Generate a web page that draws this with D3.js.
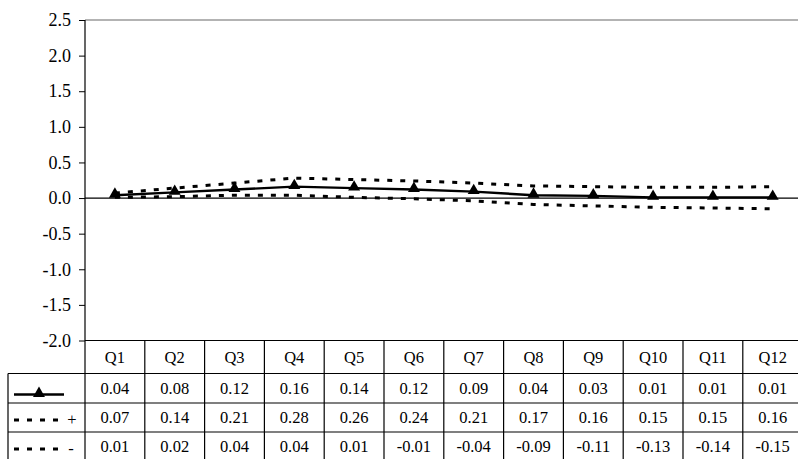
<!DOCTYPE html>
<html>
<head>
<meta charset="utf-8">
<script src="https://cdn.jsdelivr.net/npm/d3@7"></script>
<style>
  html, body { margin: 0; padding: 0; background: #fff; }
</style>
</head>
<body>
<svg id="chart" width="798" height="459"></svg>
<script>
// Quarterly categories
const quarters = ["Q1","Q2","Q3","Q4","Q5","Q6","Q7","Q8","Q9","Q10","Q11","Q12"];
// Central estimate
const central = [0.04,0.08,0.12,0.16,0.14,0.12,0.09,0.04,0.03,0.01,0.01,0.01];
// Upper band (+)
const upper = [0.07,0.14,0.21,0.28,0.26,0.24,0.21,0.17,0.16,0.15,0.15,0.16];
// Lower band (-)
const lower = [0.01,0.02,0.04,0.04,0.01,-0.01,-0.04,-0.09,-0.11,-0.13,-0.14,-0.15];
// Y axis ticks
const yTicks = [-2.0,-1.5,-1.0,-0.5,0.0,0.5,1.0,1.5,2.0,2.5];

(function () {
const svg = d3.select("#chart");
const W = 798;
const SERIF = "'Liberation Serif', 'Times New Roman', serif";
const AXIS_FS = "18px";
const TABLE_FS = "16.5px";
const plotLeft = 85, plotTop = 20, plotBottom = 340.5;
const colW = 59.8;

// plain hyphen for negatives
const fmt1 = v => d3.format(".1f")(v).replace("\u2212", "-");
const fmt2 = v => d3.format(".2f")(v).replace("\u2212", "-");

const x = d3.scaleBand().domain(quarters).range([plotLeft, plotLeft + colW * quarters.length]).padding(0);
const y = d3.scaleLinear().domain([-2, 2.5]).range([plotBottom, plotTop]);
const cx = q => x(q) + x.bandwidth() / 2;

// top border of plot area
svg.append("line")
  .attr("x1", plotLeft).attr("x2", W).attr("y1", y(2.5)).attr("y2", y(2.5))
  .attr("stroke", "#9a9a9a").attr("stroke-width", 1.5);

// Y axis
const yAxis = d3.axisLeft(y).tickValues(yTicks).tickFormat(fmt1).tickSize(6).tickPadding(8);
const ya = svg.append("g").attr("transform", `translate(${plotLeft},0)`).call(yAxis);
ya.select(".domain").remove();
ya.selectAll(".tick line").attr("stroke", "#000");
ya.selectAll(".tick text").attr("fill", "#000")
  .style("font-family", SERIF).style("font-size", AXIS_FS);
svg.append("line").attr("x1", plotLeft).attr("x2", plotLeft).attr("y1", plotTop).attr("y2", 459)
  .attr("stroke", "#000").attr("stroke-width", 1.2);

// zero line
svg.append("line").attr("x1", plotLeft).attr("x2", W).attr("y1", y(0)).attr("y2", y(0))
  .attr("stroke", "#000").attr("stroke-width", 1.2);

// Series lines
const line = vals => d3.line().x((d, i) => cx(quarters[i])).y(d => y(d))(vals);
const dash = "5,8";

svg.append("path").attr("d", line(upper)).attr("fill", "none")
  .attr("stroke", "#000").attr("stroke-width", 3).attr("stroke-dasharray", dash);
svg.append("path").attr("d", line(lower)).attr("fill", "none")
  .attr("stroke", "#000").attr("stroke-width", 3).attr("stroke-dasharray", dash);
svg.append("path").attr("d", line(central)).attr("fill", "none")
  .attr("stroke", "#000").attr("stroke-width", 2.4);

const tri = d3.symbol().type(d3.symbolTriangle).size(62);
svg.append("g").selectAll("path").data(central).join("path")
  .attr("d", tri)
  .attr("transform", (d, i) => `translate(${cx(quarters[i])},${y(d) - 1})`)
  .attr("fill", "#000");

// Data table
const rowEdges = [340.5, 373.5, 403, 432, 461];
const tableRight = plotLeft + colW * quarters.length;
const tbl = svg.append("g").attr("stroke", "#000").attr("stroke-width", 1.2);
tbl.append("line").attr("x1", plotLeft).attr("x2", tableRight).attr("y1", rowEdges[0]).attr("y2", rowEdges[0]);
rowEdges.slice(1, 4).forEach(r => {
  tbl.append("line").attr("x1", 8).attr("x2", tableRight).attr("y1", r).attr("y2", r);
});
tbl.append("line").attr("x1", 8).attr("x2", 8).attr("y1", rowEdges[1]).attr("y2", 459);
quarters.forEach(q => {
  const xe = x(q) + x.bandwidth();
  tbl.append("line").attr("x1", xe).attr("x2", xe).attr("y1", rowEdges[0]).attr("y2", 459);
});

const cell = (g, xPos, yPos, s) => g.append("text")
  .attr("x", xPos).attr("y", yPos).attr("text-anchor", "middle").attr("fill", "#000")
  .style("font-family", SERIF).style("font-size", TABLE_FS).text(s);

const txt = svg.append("g");
const rowMid = i => (rowEdges[i] + rowEdges[i + 1]) / 2;
quarters.forEach(q => cell(txt, cx(q), rowMid(0) + 5.5, q));
[central, upper, lower].forEach((vals, r) => {
  vals.forEach((v, i) => cell(txt, cx(quarters[i]), rowMid(r + 1) + 5.5, fmt2(v)));
});

// Legend keys in the first column
const lg = svg.append("g");
const ly1 = rowEdges[1] + 21;
lg.append("line").attr("x1", 14).attr("x2", 64).attr("y1", ly1).attr("y2", ly1)
  .attr("stroke", "#000").attr("stroke-width", 2.4);
lg.append("path").attr("d", tri).attr("transform", `translate(39,${ly1 - 1})`).attr("fill", "#000");

const ly2 = rowEdges[2] + 17;
lg.append("line").attr("x1", 14).attr("x2", 64).attr("y1", ly2).attr("y2", ly2)
  .attr("stroke", "#000").attr("stroke-width", 3).attr("stroke-dasharray", dash);
cell(lg, 72, ly2 + 5, "+");

const ly3 = rowEdges[3] + 17;
lg.append("line").attr("x1", 14).attr("x2", 64).attr("y1", ly3).attr("y2", ly3)
  .attr("stroke", "#000").attr("stroke-width", 3).attr("stroke-dasharray", dash);
cell(lg, 71, ly3 + 5, "-");
})();
</script>
</body>
</html>
